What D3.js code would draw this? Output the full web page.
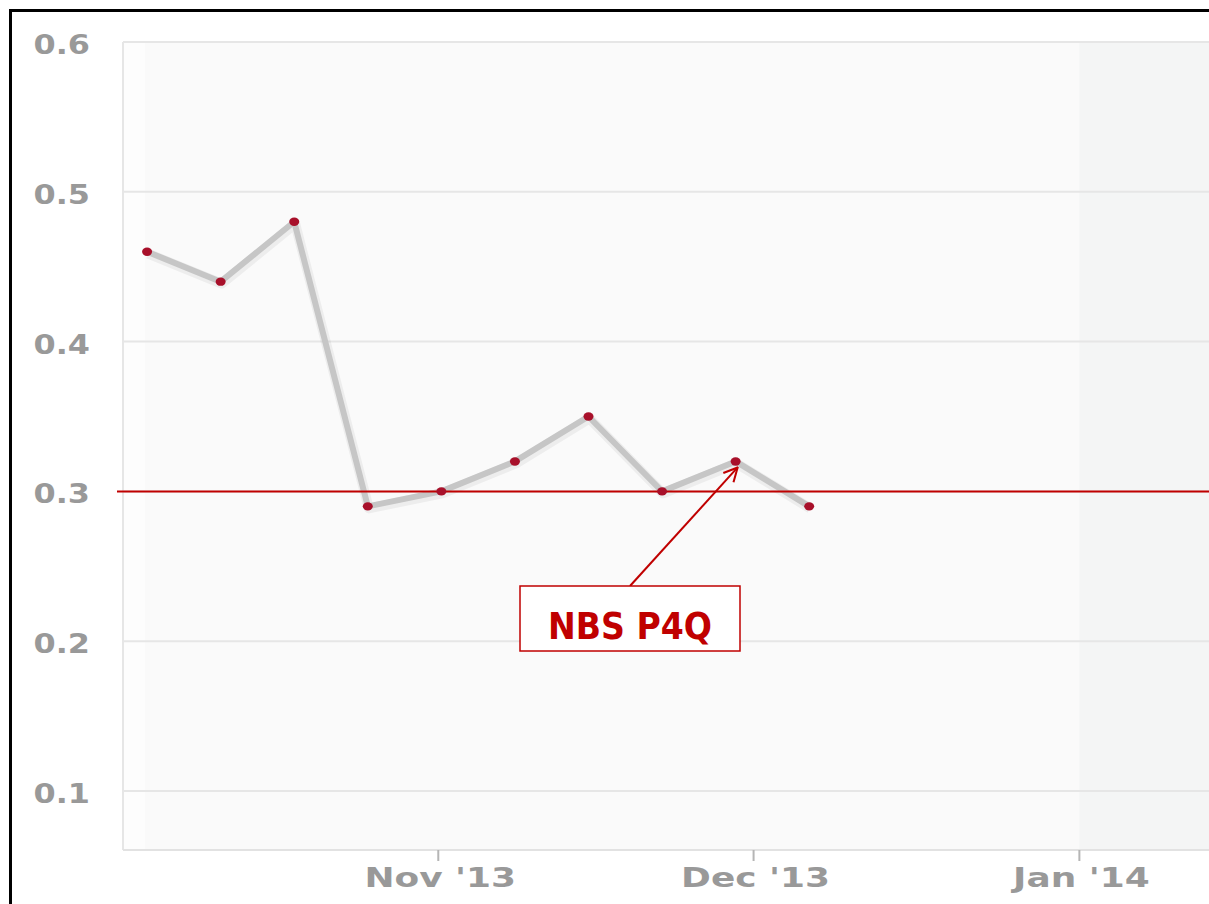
<!DOCTYPE html>
<html>
<head>
<meta charset="utf-8">
<script src="https://cdn.jsdelivr.net/npm/d3@7"></script>
<style>
  html, body { margin: 0; padding: 0; background: #fff; }
  svg { display: block; }
</style>
</head>
<body>
<div id="chart"></div>
<script>
// weekly readings
const dates = ["2013-10-04", "2013-10-11", "2013-10-18", "2013-10-25", "2013-11-01",
  "2013-11-08", "2013-11-15", "2013-11-22", "2013-11-29", "2013-12-06"];
const values = [0.46, 0.44, 0.48, 0.29, 0.30, 0.32, 0.35, 0.30, 0.32, 0.29];
const yTicks = [0.1, 0.2, 0.3, 0.4, 0.5, 0.6];
const xTicks = ["2013-11-01", "2013-12-01", "2014-01-01"];
const xTickLabels = ["Nov '13", "Dec '13", "Jan '14"];
const refValue = 0.3;
const refLabel = "NBS P4Q";
const labelPoint = 8; // index the arrow points to

const W = 1209, H = 904;
const margin = { left: 123, top: 42, right: 0, bottom: 54 };
const parse = d3.utcParse("%Y-%m-%d");
const font = "DejaVu Sans, Verdana, sans-serif";

const svg = d3.select("#chart").append("svg").attr("width", W).attr("height", H);

const x = d3.scaleUtc()
  .domain([parse("2013-10-02"), new Date(Date.UTC(2014, 0, 13, 8))])
  .range([margin.left, W - margin.right]);
const y = d3.scaleLinear().domain([0.0606, 0.6]).range([H - margin.bottom, margin.top]);

const pts = dates.map((d, i) => ({ date: new Date(parse(d).getTime() + 7 * 3600e3), v: values[i] }));

// stretch text horizontally (the source image is widened)
function stretch(sel, k) {
  sel.each(function () {
    const w = this.getComputedTextLength();
    d3.select(this).attr("textLength", w * k).attr("lengthAdjust", "spacingAndGlyphs");
  });
}

// plot background
svg.append("rect").attr("x", margin.left).attr("y", margin.top)
  .attr("width", W - margin.left).attr("height", y.range()[0] - margin.top)
  .attr("fill", "#fafafa");
svg.append("rect").attr("x", margin.left).attr("y", margin.top)
  .attr("width", 22).attr("height", y.range()[0] - margin.top)
  .attr("fill", "#fdfdfd");
svg.append("rect").attr("x", x(parse("2014-01-01"))).attr("y", margin.top)
  .attr("width", W - x(parse("2014-01-01"))).attr("height", y.range()[0] - margin.top)
  .attr("fill", "#f4f5f5");

// grid lines
svg.append("g").selectAll("line").data(yTicks).join("line")
  .attr("x1", margin.left).attr("x2", W)
  .attr("y1", d => y(d)).attr("y2", d => y(d))
  .attr("stroke", "#e6e6e6").attr("stroke-width", 2);

// plot frame left + bottom
svg.append("line").attr("x1", margin.left).attr("x2", margin.left)
  .attr("y1", margin.top).attr("y2", y.range()[0])
  .attr("stroke", "#e6e6e6").attr("stroke-width", 2);
svg.append("line").attr("x1", margin.left).attr("x2", W)
  .attr("y1", y.range()[0]).attr("y2", y.range()[0])
  .attr("stroke", "#e2e2e2").attr("stroke-width", 2);

// y labels
svg.append("g").selectAll("text").data(yTicks).join("text")
  .attr("x", 90).attr("y", d => y(d) + 12)
  .attr("text-anchor", "end")
  .attr("font-family", font).attr("font-weight", "bold")
  .attr("font-size", 27).attr("fill", "#999")
  .text(d => d.toFixed(1))
  .call(stretch, 1.18);

// x ticks + labels
const xg = svg.append("g");
xg.selectAll("line").data(xTicks).join("line")
  .attr("x1", d => x(parse(d))).attr("x2", d => x(parse(d)))
  .attr("y1", y.range()[0]).attr("y2", y.range()[0] + 11)
  .attr("stroke", "#b5b5b5").attr("stroke-width", 2);
xg.selectAll("text").data(xTicks).join("text")
  .attr("x", d => x(parse(d)) + 2).attr("y", 887)
  .attr("text-anchor", "middle")
  .attr("font-family", font).attr("font-weight", "bold")
  .attr("font-size", 27).attr("fill", "#999")
  .text((d, i) => xTickLabels[i])
  .call(stretch, 1.33);

// series
const line = d3.line().x(d => x(d.date)).y(d => y(d.v));
svg.append("path").datum(pts).attr("d", line)
  .attr("fill", "none").attr("stroke", "#000").attr("stroke-opacity", 0.05)
  .attr("stroke-width", 10).attr("stroke-linejoin", "round")
  .attr("transform", "translate(1,2)");
svg.append("path").datum(pts).attr("d", line)
  .attr("fill", "none").attr("stroke", "#c6c6c6")
  .attr("stroke-width", 6).attr("stroke-linejoin", "round");

// reference line
svg.append("line").attr("x1", 117).attr("x2", W)
  .attr("y1", y(refValue)).attr("y2", y(refValue))
  .attr("stroke", "#c00000").attr("stroke-width", 2);

// markers
svg.append("g").selectAll("ellipse").data(pts).join("ellipse")
  .attr("cx", d => x(d.date)).attr("cy", d => y(d.v))
  .attr("rx", 5).attr("ry", 4.2)
  .attr("fill", "#a8102a");

// annotation
svg.append("defs").append("marker").attr("id", "arr")
  .attr("viewBox", "0 0 14 14").attr("refX", 13).attr("refY", 7)
  .attr("markerWidth", 16).attr("markerHeight", 16)
  .attr("markerUnits", "userSpaceOnUse").attr("orient", "auto")
  .append("path").attr("d", "M1,1 L13,7 L1,13")
  .attr("fill", "none").attr("stroke", "#c00000").attr("stroke-width", 1.8);

const tgt = pts[labelPoint];
const boxX = 520, boxY = 586, boxW = 220, boxH = 65;
svg.append("line")
  .attr("x1", boxX + boxW / 2).attr("y1", boxY)
  .attr("x2", x(tgt.date) + 2).attr("y2", y(tgt.v) + 6)
  .attr("stroke", "#c00000").attr("stroke-width", 2)
  .attr("marker-end", "url(#arr)");
svg.append("rect").attr("x", boxX).attr("y", boxY).attr("width", boxW).attr("height", boxH)
  .attr("fill", "#fff").attr("stroke", "#c00000").attr("stroke-width", 1.5);
svg.append("text").attr("x", boxX + boxW / 2).attr("y", boxY + 53)
  .attr("text-anchor", "middle")
  .attr("font-family", font).attr("font-weight", "bold")
  .attr("font-size", 37).attr("fill", "#c00000")
  .attr("textLength", 164).attr("lengthAdjust", "spacingAndGlyphs")
  .text(refLabel);

// outer frame (cut off at right and bottom)
svg.append("rect").attr("x", 10.5).attr("y", 10.5).attr("width", W + 20).attr("height", H + 20)
  .attr("fill", "none").attr("stroke", "#000").attr("stroke-width", 3);
</script>
</body>
</html>
